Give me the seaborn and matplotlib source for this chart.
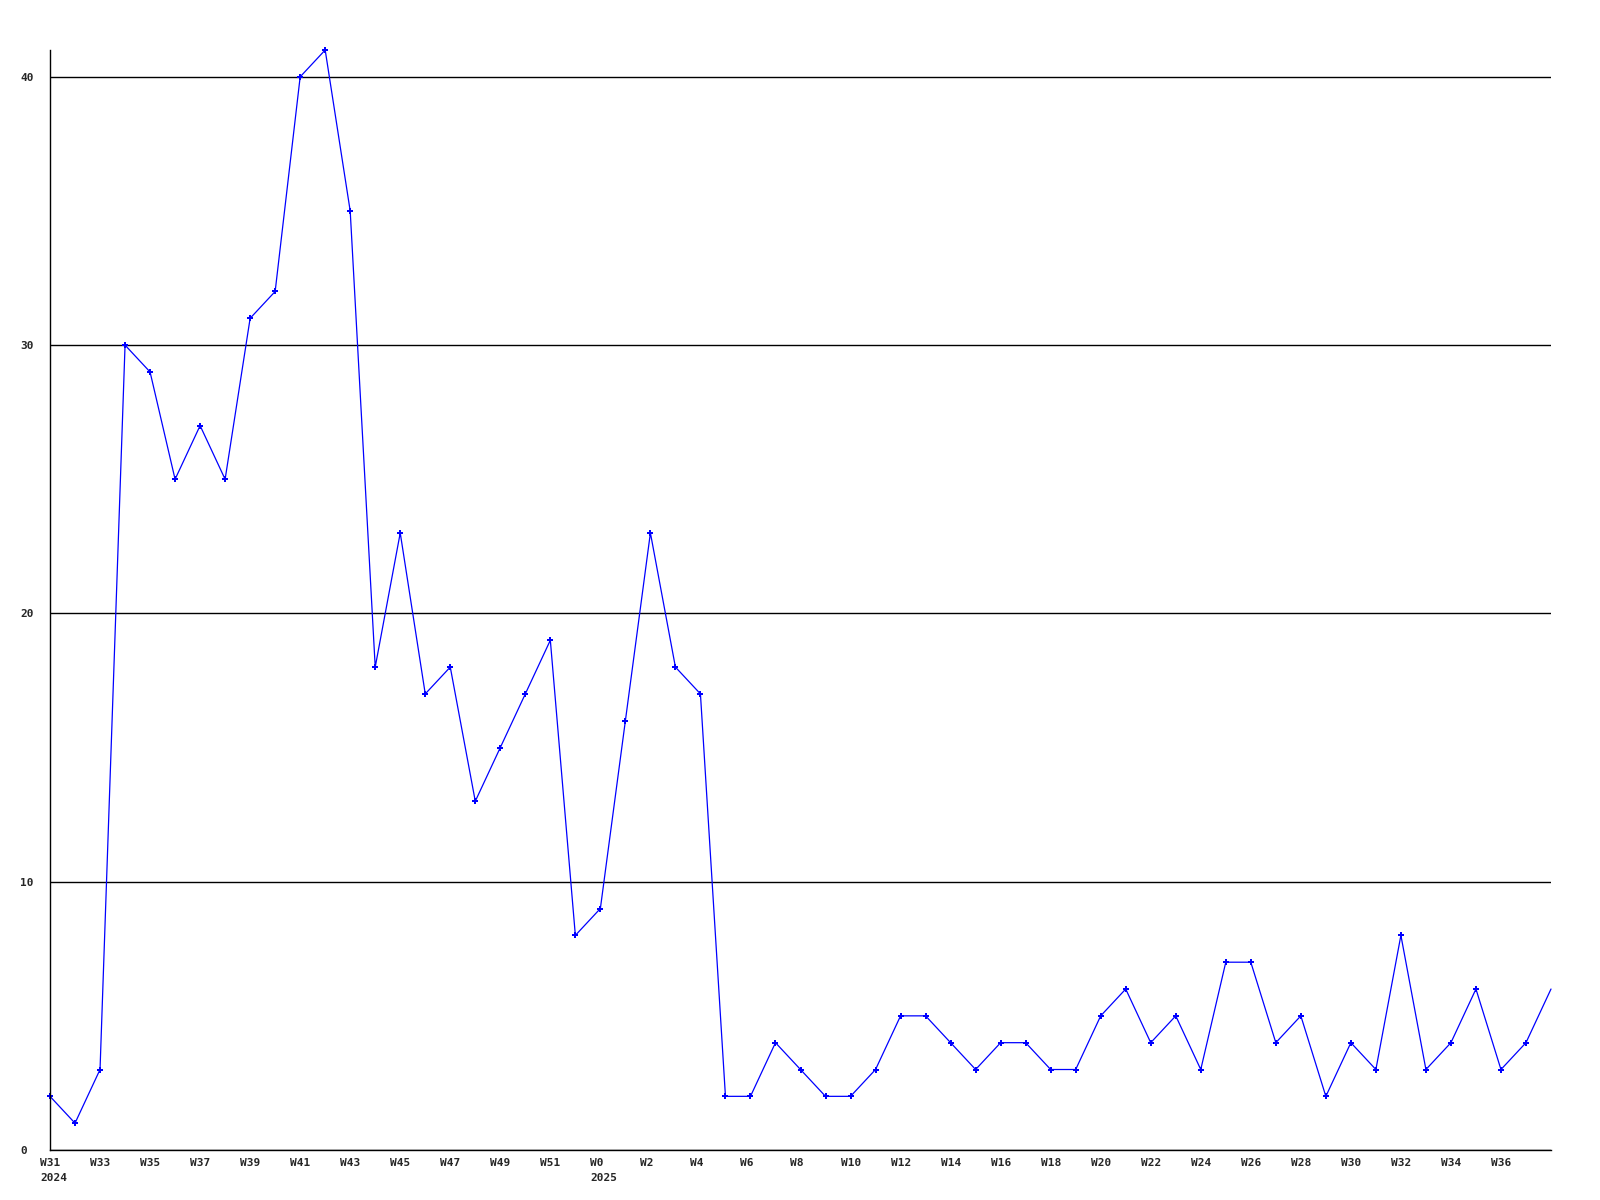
"""Weekly counts line chart, W31 2024 to W38 2025."""

import matplotlib
matplotlib.use("Agg")
import matplotlib.pyplot as plt
from matplotlib.transforms import ScaledTranslation
import pandas as pd
import seaborn as sns

# weeks shown on the x axis (2024 W31..W52, then 2025 W0..W38)
weeks = [f"W{w}" for w in range(31, 53)] + [f"W{w}" for w in range(0, 39)]
years = [2024] * 22 + [2025] * 39
counts = [2, 1, 3, 30, 29, 25, 27, 25, 31, 32, 40, 41, 35, 18, 23, 17, 18, 13,
          15, 17, 19, 8, 9, 16, 23, 18, 17, 2, 2, 4, 3, 2, 2, 3, 5, 5, 4, 3,
          4, 4, 3, 3, 5, 6, 4, 5, 3, 7, 7, 4, 5, 2, 4, 3, 8, 3, 4, 6, 3, 4, 6]
y_ticks = [0, 10, 20, 30, 40]

df = pd.DataFrame({"idx": range(len(weeks)), "week": weeks, "year": years,
                   "count": counts})

sns.set_style("white")
plt.rcParams["font.family"] = ["DejaVu Sans Mono"]

fig = plt.figure(figsize=(16, 12), dpi=100)
ax = fig.add_axes([50 / 1600, 50 / 1200, 1501 / 1600, 1100 / 1200])

sns.lineplot(data=df, x="idx", y="count", ax=ax, color="#0000ff",
             linewidth=0.9, marker="P", markersize=4, markeredgewidth=0,
             markevery=list(range(len(counts) - 1)), clip_on=False)

ax.set_xlim(0, len(counts) - 1)
ax.set_ylim(0, max(counts))

# x tick labels every other week (last week unlabeled), year under first week
tick_pos, tick_lab = [], []
for i, (w, yr) in enumerate(zip(weeks, years)):
    if i % 2 == 0 and i < len(weeks) - 1:
        lab = w
        if i == 0 or years[i - 1] != yr:
            lab += f"\n{yr}"
        tick_pos.append(i)
        tick_lab.append(lab)
ax.set_xticks(tick_pos)
ax.set_xticklabels(tick_lab, fontsize=8, fontweight="bold", ha="left",
                   va="top", linespacing=1.6)
ax.tick_params(axis="x", length=0, pad=6)
shift = ScaledTranslation(-10 / 100, 0, fig.dpi_scale_trans)
for lbl in ax.get_xticklabels():
    lbl.set_transform(lbl.get_transform() + shift)

ax.set_yticks(y_ticks)
ax.set_yticklabels([str(v) for v in y_ticks], fontsize=8, fontweight="bold",
                   ha="left")
ax.tick_params(axis="y", length=0, pad=21.6)

ax.grid(True, axis="y", color="black", linewidth=1.0)
ax.grid(False, axis="x")
ax.set_axisbelow(True)
ax.set_xlabel("")
ax.set_ylabel("")
for s in ["top", "right"]:
    ax.spines[s].set_visible(False)
for s in ["left", "bottom"]:
    ax.spines[s].set_color("black")
    ax.spines[s].set_linewidth(1.0)

fig.savefig("out.png", dpi=100)
plt.close(fig)
